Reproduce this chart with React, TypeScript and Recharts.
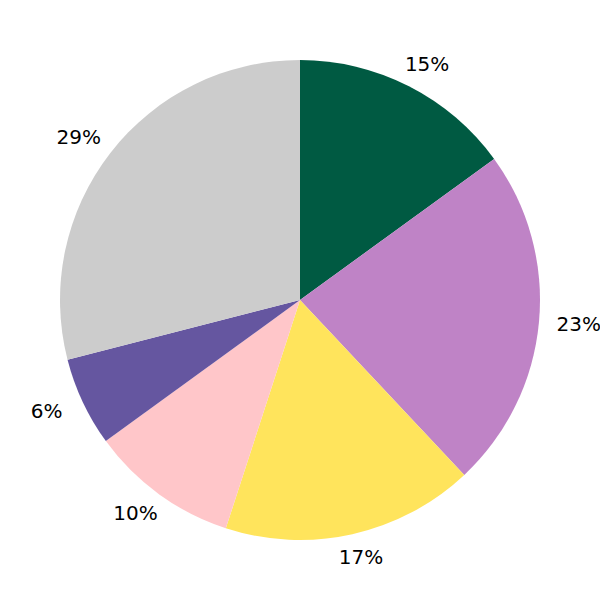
import { PieChart, Pie, Cell } from 'recharts';

const shares = [15, 23, 17, 10, 6, 29];
const sliceNames = ['A', 'B', 'C', 'D', 'E', 'F'];
const sliceColors = ['#005a42', '#bf83c6', '#ffe45c', '#ffc6c9', '#6556a0', '#cccccc'];

const data = shares.map((value, i) => ({ name: sliceNames[i], value }));

const RADIAN = Math.PI / 180;

// labels sit a bit outside the rim, nudged sideways away from the centre
const renderLabel = (props: any) => {
  const { cx, cy, midAngle, outerRadius, value } = props;
  const r = outerRadius * 1.1;
  const cos = Math.cos(-midAngle * RADIAN);
  const sin = Math.sin(-midAngle * RADIAN);
  const x = cx + r * cos + 16 * cos;
  const y = cy + r * sin - 1;
  return (
    <text
      x={x}
      y={y}
      fill="#000"
      textAnchor="middle"
      dominantBaseline="central"
      fontSize={20}
      fontFamily="DejaVu Sans"
    >
      {`${value}%`}
    </text>
  );
};

export default function App() {
  return (
    <div style={{ position: 'absolute', left: 0, top: 0, width: 600, height: 600, background: '#fff' }}>
      <PieChart width={600} height={600} margin={{ top: 0, right: 0, bottom: 0, left: 0 }}>
        <Pie
          data={data}
          dataKey="value"
          cx={300}
          cy={300}
          outerRadius={240}
          startAngle={90}
          endAngle={-270}
          stroke="none"
          label={renderLabel}
          labelLine={false}
          isAnimationActive={false}
        >
          {data.map((entry, index) => (
            <Cell key={entry.name} fill={sliceColors[index]} />
          ))}
        </Pie>
      </PieChart>
    </div>
  );
}
